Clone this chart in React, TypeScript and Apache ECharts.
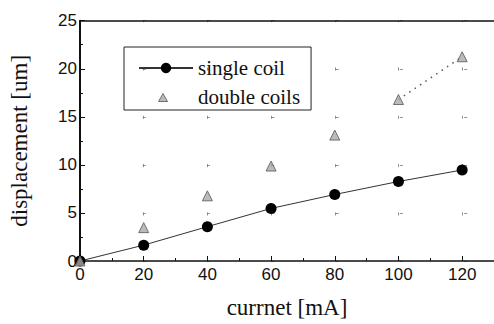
import React, { useEffect, useRef } from "react";
import * as echarts from "echarts";

const currents = [0, 20, 40, 60, 80, 100, 120];
const singleCoil = [0, 1.65, 3.57, 5.47, 6.92, 8.27, 9.47];
const doubleCoils = [0, 3.47, 6.78, 9.88, 13.1, 16.8, 21.25];
const seriesNames = ["single coil", "double coils"];
const xAxisName = "currnet [mA]";
const yAxisName = "displacement [um]";
const xMin = 0;
const xMax = 130;
const xStep = 20;
const yMin = 0;
const yMax = 25;
const yStep = 5;

const pairs = (ys: number[]) => currents.map((x, i) => [x, ys[i]]);

export default function App() {
  const ref = useRef<HTMLDivElement>(null);
  useEffect(() => {
    if (!ref.current) return;
    const chart = echarts.init(ref.current, undefined, { renderer: "svg" });
    const sans = "'Liberation Sans', Arial, sans-serif";
    const serif = "'Liberation Serif', 'Times New Roman', serif";
    const plotLeft = 80;
    const plotTop = 20.7;
    const plotH = 241.5;
    const pxPerX = 3.214;
    const pxPerY = plotH / (yMax - yMin);
    const pxX = pxPerX * xStep;
    const pxY = pxPerY * yStep;
    chart.setOption({
      animation: false,
      backgroundColor: "#ffffff",
      grid: { left: plotLeft, top: plotTop, width: pxPerX * (xMax - xMin), height: plotH, containLabel: false },
      legend: {
        orient: "vertical",
        left: 124,
        top: 47,
        padding: [10, 11, 2, 14],
        borderColor: "#222",
        borderWidth: 1,
        itemWidth: 54,
        itemHeight: 13,
        itemGap: 7,
        textStyle: { fontFamily: serif, fontSize: 21, color: "#111", lineHeight: 22 },
        data: [
          { name: seriesNames[0] },
          {
            name: seriesNames[1],
            icon: "path://M0,0M24,3L28.5,11L19.5,11ZM54,13",
            itemStyle: { color: "#aaa", borderColor: "#555", borderWidth: 1 },
          },
        ],
      },
      xAxis: [
        {
          type: "value",
          min: xMin,
          max: xMax,
          interval: xStep,
          name: xAxisName,
          nameLocation: "middle",
          nameGap: 35,
          nameTextStyle: { fontFamily: serif, fontSize: 23, color: "#111" },
          axisLine: { show: true, onZero: false, lineStyle: { color: "#111", width: 1.5 } },
          axisTick: { show: true, inside: true, length: 5, lineStyle: { color: "#111", width: 1 } },
          minorTick: { show: true, splitNumber: 2, length: 3, lineStyle: { color: "#111", width: 1 } },
          axisLabel: {
            fontFamily: sans,
            fontSize: 17,
            color: "#111",
            margin: 5,
            showMaxLabel: false,
          },
          splitLine: {
            show: true,
            lineStyle: { color: "#888", width: 1, type: [1.5, pxY - 3, 1.5, 0] },
          },
        },
        {
          type: "value",
          position: "top",
          min: xMin,
          max: xMax,
          interval: xStep,
          axisLine: { show: true, onZero: false, lineStyle: { color: "#111", width: 1.5 } },
          axisTick: { show: false },
          axisLabel: { show: false },
          splitLine: { show: false },
        },
      ],
      yAxis: {
        type: "value",
        min: yMin,
        max: yMax,
        interval: yStep,
        name: yAxisName,
        nameLocation: "middle",
        nameGap: 49,
        nameTextStyle: { fontFamily: serif, fontSize: 23, color: "#111" },
        axisLine: { show: true, onZero: false, lineStyle: { color: "#111", width: 2 } },
        axisTick: { show: true, inside: true, length: 5, lineStyle: { color: "#111", width: 1 } },
        minorTick: { show: true, splitNumber: 2, length: 3, lineStyle: { color: "#111", width: 1 } },
        axisLabel: { fontFamily: sans, fontSize: 17, color: "#111", margin: 3 },
        splitLine: {
          show: true,
          lineStyle: { color: "#888", width: 1, type: [1.5, pxX - 3, 1.5, 0] },
        },
      },
      series: [
        {
          name: seriesNames[0],
          type: "line",
          data: pairs(singleCoil),
          symbol: "circle",
          symbolSize: 11,
          itemStyle: { color: "#000" },
          lineStyle: { color: "#333", width: 1 },
          z: 3,
        },
        {
          name: seriesNames[1],
          type: "scatter",
          data: pairs(doubleCoils),
          symbol: "triangle",
          symbolSize: 10,
          itemStyle: { color: "#aaa", borderColor: "#555", borderWidth: 1 },
          z: 4,
        },
        {
          name: "double coils trend",
          type: "line",
          data: pairs(doubleCoils).slice(-2),
          symbol: "none",
          lineStyle: { color: "#555", width: 1.5, type: [1.5, 5] },
          z: 2,
        },
      ],
    });
    return () => chart.dispose();
  }, []);
  return (
    <div
      ref={ref}
      style={{ position: "fixed", left: 0, top: 0, width: 494, height: 324, background: "#fff" }}
    />
  );
}
